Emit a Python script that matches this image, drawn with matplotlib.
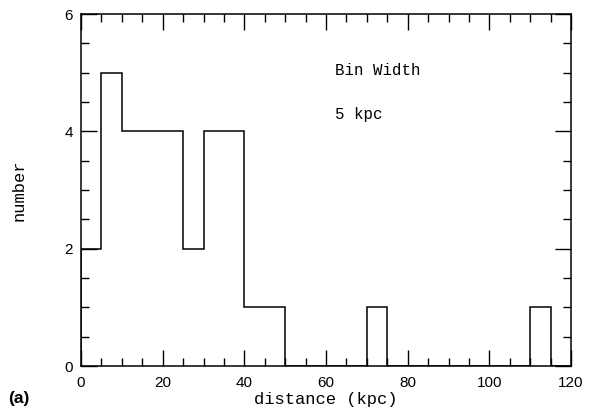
import matplotlib
matplotlib.use("Agg")
import matplotlib.pyplot as plt
import numpy as np
from matplotlib.ticker import MultipleLocator

# histogram data: 5 kpc bins from 0 to 120 kpc
bin_edges = np.arange(0, 125, 5)
counts = [2, 5, 4, 4, 4, 2, 4, 4, 1, 1, 0, 0, 0, 0, 1, 0, 0, 0, 0, 0, 0, 0, 1, 0]

mono = ["Liberation Mono", "DejaVu Sans Mono"]
sans = ["Liberation Sans", "DejaVu Sans"]

fig = plt.figure(figsize=(5.89, 4.08), dpi=100)
ax = fig.add_axes([81 / 589, 1 - 366 / 408, 490 / 589, 352 / 408])

ax.stairs(counts, bin_edges, baseline=0, fill=False, color="black", lw=1.1)

ax.set_xlim(0, 120)
ax.set_ylim(0, 6)
ax.xaxis.set_major_locator(MultipleLocator(20))
ax.xaxis.set_minor_locator(MultipleLocator(5))
ax.yaxis.set_major_locator(MultipleLocator(2))
ax.yaxis.set_minor_locator(MultipleLocator(0.5))
ax.tick_params(which="both", direction="in", top=True, right=True, color="black", width=1.0)
ax.tick_params(which="major", length=11.5)
ax.tick_params(which="minor", length=5.8)
ax.tick_params(axis="x", which="major", pad=7)
ax.tick_params(axis="y", which="major", pad=6)
for lab in ax.get_xticklabels() + ax.get_yticklabels():
    lab.set_fontfamily(sans)
    lab.set_fontsize(11)
for sp in ax.spines.values():
    sp.set_linewidth(1.1)

ax.set_xlabel("distance (kpc)", family=mono, fontsize=12.3, labelpad=1.5)
ax.set_ylabel("number", family=mono, fontsize=12.3, labelpad=27)

ax.text(62.2, 5.03, "Bin Width", family=mono, fontsize=11.3, va="center", ha="left")
ax.text(62.2, 4.28, "5 kpc", family=mono, fontsize=11.3, va="center", ha="left")

fig.text(8 / 589, 1 - 406 / 408, "(a)", family=sans, fontsize=12.5, fontweight="bold",
         va="bottom", ha="left")

fig.savefig("out.png", dpi=100)
